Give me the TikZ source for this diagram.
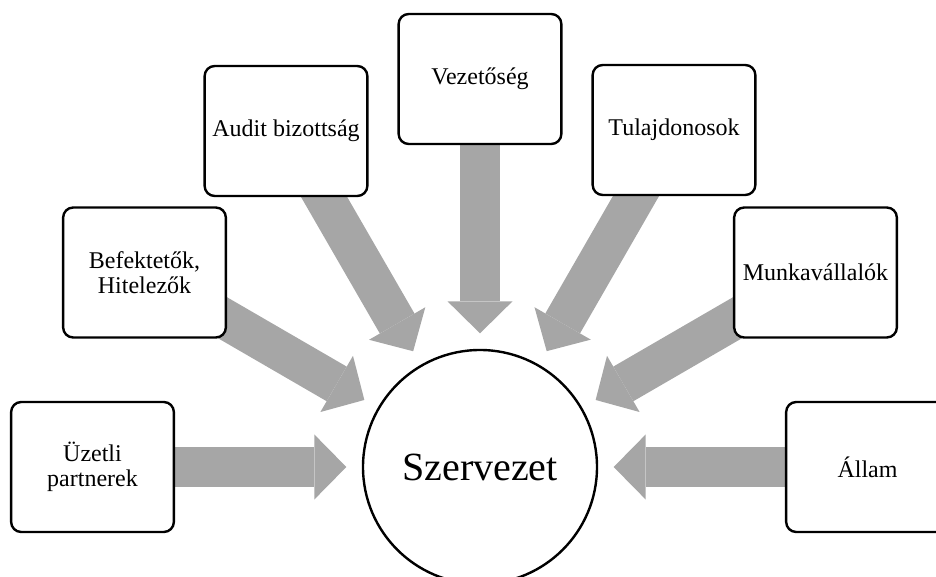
\documentclass[tikz,border=0pt]{standalone}
\usepackage{fontspec}
\setmainfont{Liberation Serif}
\usetikzlibrary{arrows.meta,backgrounds}
\definecolor{arrowgrey}{HTML}{A6A6A6}

\begin{document}
\begin{tikzpicture}[x=0.75pt, y=-0.75pt,
    box/.style={draw, fill=white, line width=1.8pt, rounded corners=7.5pt,
      minimum width=122pt, minimum height=97.5pt, align=center,
      font=\fontsize{18}{19}\selectfont},
    blockarrow/.style={draw=arrowgrey, line width=30pt,
      -{Triangle[width=48.75pt, length=24pt, line width=0pt]}, shorten >=11.6pt}]
    \clip (0,0) rectangle (936,577);
    \node[circle, draw, fill=white, line width=1.8pt, minimum size=175.5pt,
      font=\fontsize{30}{36}\selectfont] (0) at (480,467) {Szervezet};
    \node[box] (1) at (92.5,467) {Üzetli\\partnerek};
    \node[box] (2) at (144.5,272.5) {Befektetők,\\Hitelezők};
    \node[box] (3) at (286,131) {Audit bizottság};
    \node[box] (4) at (480,79) {Vezetőség};
    \node[box] (5) at (674,130) {Tulajdonosok};
    \node[box] (6) at (815.5,272.5) {Munkavállalók};
    \node[box] (7) at (867.5,467) {Állam};
\begin{scope}[on background layer]
    \foreach \n in {1,...,7}
      \draw[blockarrow] (\n.center) -- (0);
\end{scope}
\end{tikzpicture}
\end{document}
